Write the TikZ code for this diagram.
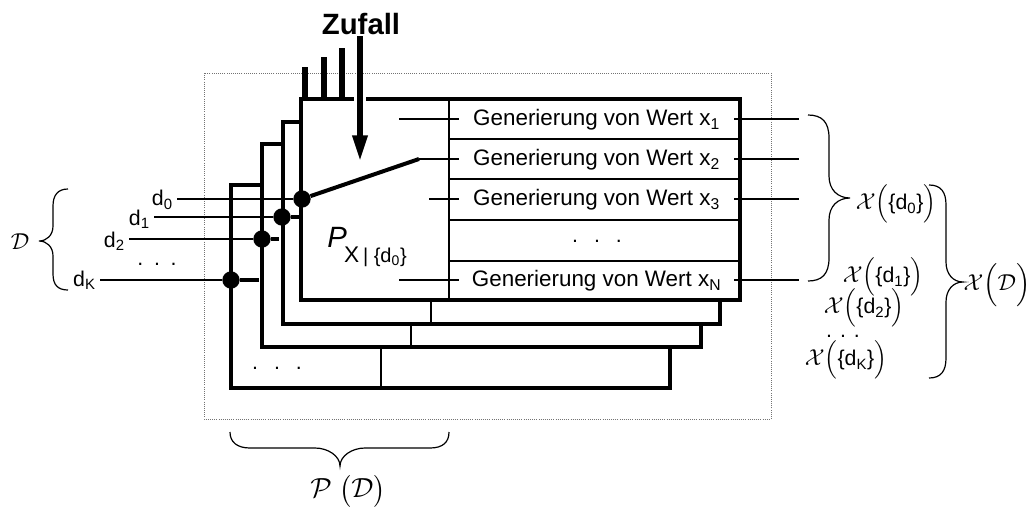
\documentclass[tikz,border=0pt]{standalone}
\usepackage{amsmath,amssymb}
\usepackage{fontspec}
\setmainfont{Liberation Sans}
\usetikzlibrary{arrows.meta,calc}
\newcommand{\mydots}[1]{.\hspace{#1}.\hspace{#1}.}
\newcommand{\myset}[1]{$\mathcal{X}\Bigl($\{d\textsubscript{#1}\}$\Bigr)$}
\tikzset{
  framebox/.style={
    draw=black!55,
    line width=0.6pt,
    densely dotted
  },
  layerbox/.style={
    draw,
    fill=white,
    line width=3pt,
    line join=miter
  },
  thinline/.style={
    line width=1.05pt
  },
  switchline/.style={
    line width=3pt
  },
  seedbar/.style={
    line width=5pt
  },
  inputdot/.style={
    shape=circle,
    fill=black,
    inner sep=0pt,
    minimum size=13pt
  },
  gentext/.style={
    anchor=west,
    inner xsep=0pt,
    inner ysep=2pt,
    minimum width=206pt,
    align=center,
    font=\fontsize{16.8}{18}\selectfont
  },
  dlabel/.style={
    anchor=east,
    inner xsep=3pt,
    inner ysep=1pt,
    font=\fontsize{16}{18}\selectfont
  },
  setlabel/.style={
    inner sep=0pt,
    font=\fontsize{16}{18}\selectfont
  },
  dotstext/.style={
    inner sep=0pt,
    font=\fontsize{16}{18}\selectfont
  },
  setbrace/.style={
    line width=0.9pt
  }
}
\begin{document}
\begin{tikzpicture}[x=0.75pt,y=-0.75pt]
        \useasboundingbox (0,0) rectangle (1030,507);
        \draw[framebox] (204,73) rectangle (771,419);

        % layers, back to front
        \foreach \l/\t/\r/\b/\m in {231/185/670/388/381,262/144/701/347/411,283/122/720/324/431}{
          \draw[layerbox] (\l,\t) rectangle (\r,\b);
          \draw[thinline] (\m,\t) -- (\m,\b);
        }
        \foreach \x in {305,324,342}{
          \coordinate (bartop\x) at (\x,{67-(\x-305)*0.51});
          \coordinate (barfoot\x) at (\x,99);
          \draw[seedbar] (bartop\x) -- (barfoot\x);
        }
        \draw[layerbox] (301,99) rectangle (740,300);
        \draw[thinline] (449,99) -- (449,300);
        \foreach \y in {139,179,220,261}{
          \draw[thinline] (449,\y) -- (740,\y);
        }

        \node[gentext] (gen1) at (459,120) {Generierung von Wert x\textsubscript{1}};
        \node[gentext] (gen2) at (459,160) {Generierung von Wert x\textsubscript{2}};
        \node[gentext] (gen3) at (459,200) {Generierung von Wert x\textsubscript{3}};
        \node[gentext] (genN) at (459,281) {Generierung von Wert x\textsubscript{N}};
        \node[dotstext] (rowdots) at (597,241) {\mydots{12pt}};
        \node[dotstext] (layerdots) at (277,368) {\mydots{12pt}};

        \coordinate (in1) at (399,119);
        \coordinate (sw) at (419,159);
        \coordinate (in3) at (429,199);
        \coordinate (inN) at (399,280);
        \draw[thinline] (in1) -- (in1 -| gen1.west);
        \draw[thinline] (sw) -- (sw -| gen2.west);
        \draw[thinline] (in3) -- (in3 -| gen3.west);
        \draw[thinline] (inN) -- (inN -| genN.west);

        \coordinate (out1) at (799,119);
        \coordinate (out2) at (799,159);
        \coordinate (out3) at (799,199);
        \coordinate (outN) at (799,280);
        \draw[thinline] (out1 -| gen1.east) -- (out1);
        \draw[thinline] (out2 -| gen2.east) -- (out2);
        \draw[thinline] (out3 -| gen3.east) -- (out3);
        \draw[thinline] (outN -| genN.east) -- (outN);

        % inputs
        \node[inputdot] (dot0) at (302,199) {};
        \node[inputdot] (dot1) at (282,217) {};
        \node[inputdot] (dot2) at (262,239) {};
        \node[inputdot] (dotK) at (231,280) {};
        \node[dlabel] (d0) at (177,200) {d\textsubscript{0}};
        \node[dlabel] (d1) at (154,219) {d\textsubscript{1}};
        \node[dlabel] (d2) at (129,241) {d\textsubscript{2}};
        \node[dlabel] (dK) at (100,280) {d\textsubscript{K}};
        \node[dotstext] (ddots) at (157,264) {\mydots{8pt}};
        \draw[thinline] (d0.east |- dot0) -- (dot0);
        \draw[thinline] (d1.east |- dot1) -- (dot1);
        \draw[thinline] (d2.east |- dot2) -- (dot2);
        \draw[thinline] (dK.east |- dotK) -- (dotK);
        \coordinate (stub1) at (301,217);
        \coordinate (stub2) at (279,239);
        \coordinate (stubK) at (259,280);
        \draw[switchline] (dot1) -- (stub1);
        \draw[switchline] (dot2) -- (stub2);
        \draw[switchline] (dotK) -- (stubK);
        \draw[switchline] (dot0) -- (sw);

        % random input
        \node[inner sep=1pt,font=\fontsize{22}{24}\selectfont\bfseries] (zufall) at (361,24) {Zufall};
        \coordinate (zufallend) at (360,162);
        \draw[white,line width=9pt] (360,92) -- (360,106);
        \draw[line width=4.5pt,-{Triangle[length=20pt,width=10.5pt]}] (zufall.south -| zufallend) -- (zufallend);

        \node[anchor=west,inner sep=0pt] (pcond) at (327,247) {{\fontsize{22}{24}\selectfont\itshape P}\hspace{-2pt}\raisebox{-2.2ex}{\fontsize{17}{18}\selectfont X\,\fontsize{15}{15}\selectfont | \{d\textsubscript{0}\}}};

        % braces
        \draw[setbrace] (68,189) .. controls (58,189) and (53,195) .. (53,206) -- (53,226) .. controls (53,235) and (47,241) .. (39,241) .. controls (47,241) and (53,247) .. (53,256) -- (53,274) .. controls (53,285) and (58,290) .. (68,290);
        \node[setlabel,font=\fontsize{18}{20}\selectfont] (setD) at (20,242) {$\mathcal{D}$};

        \draw[setbrace] (808,115) .. controls (822,115) and (829,122) .. (829,138) -- (829,176) .. controls (829,190) and (838,198) .. (850,198) .. controls (838,198) and (829,206) .. (829,220) -- (829,258) .. controls (829,274) and (822,281) .. (808,281);
        \node[setlabel] (x0) at (896,204) {\myset{0}};
        \node[setlabel] (x1) at (883,277) {\myset{1}};
        \node[setlabel] (x2) at (864,308) {\myset{2}};
        \node[dotstext] (xdots) at (843,336) {\mydots{6pt}};
        \node[setlabel] (xK) at (846,360) {\myset{K}};

        \draw[setbrace] (929,185) .. controls (941,185) and (946,192) .. (946,205) -- (946,262) .. controls (946,274) and (953,282) .. (963,282) .. controls (953,282) and (946,290) .. (946,302) -- (946,358) .. controls (946,371) and (941,378) .. (929,378);
        \node[setlabel,font=\fontsize{18}{20}\selectfont] (xD) at (997,285) {$\mathcal{X}\Bigl(\mathcal{D}\Bigr)$};

        \draw[setbrace] (230,432) .. controls (230,442) and (237,448) .. (250,448) -- (315,448) .. controls (328,448) and (340,456) .. (340,466) .. controls (340,456) and (352,448) .. (365,448) -- (430,448) .. controls (443,448) and (449,442) .. (449,432);
        \node[setlabel,font=\fontsize{20}{22}\selectfont] (pD) at (348,491) {$\mathcal{P}\ \bigl(\mathcal{D}\bigr)$};
    \end{tikzpicture}
\end{document}
